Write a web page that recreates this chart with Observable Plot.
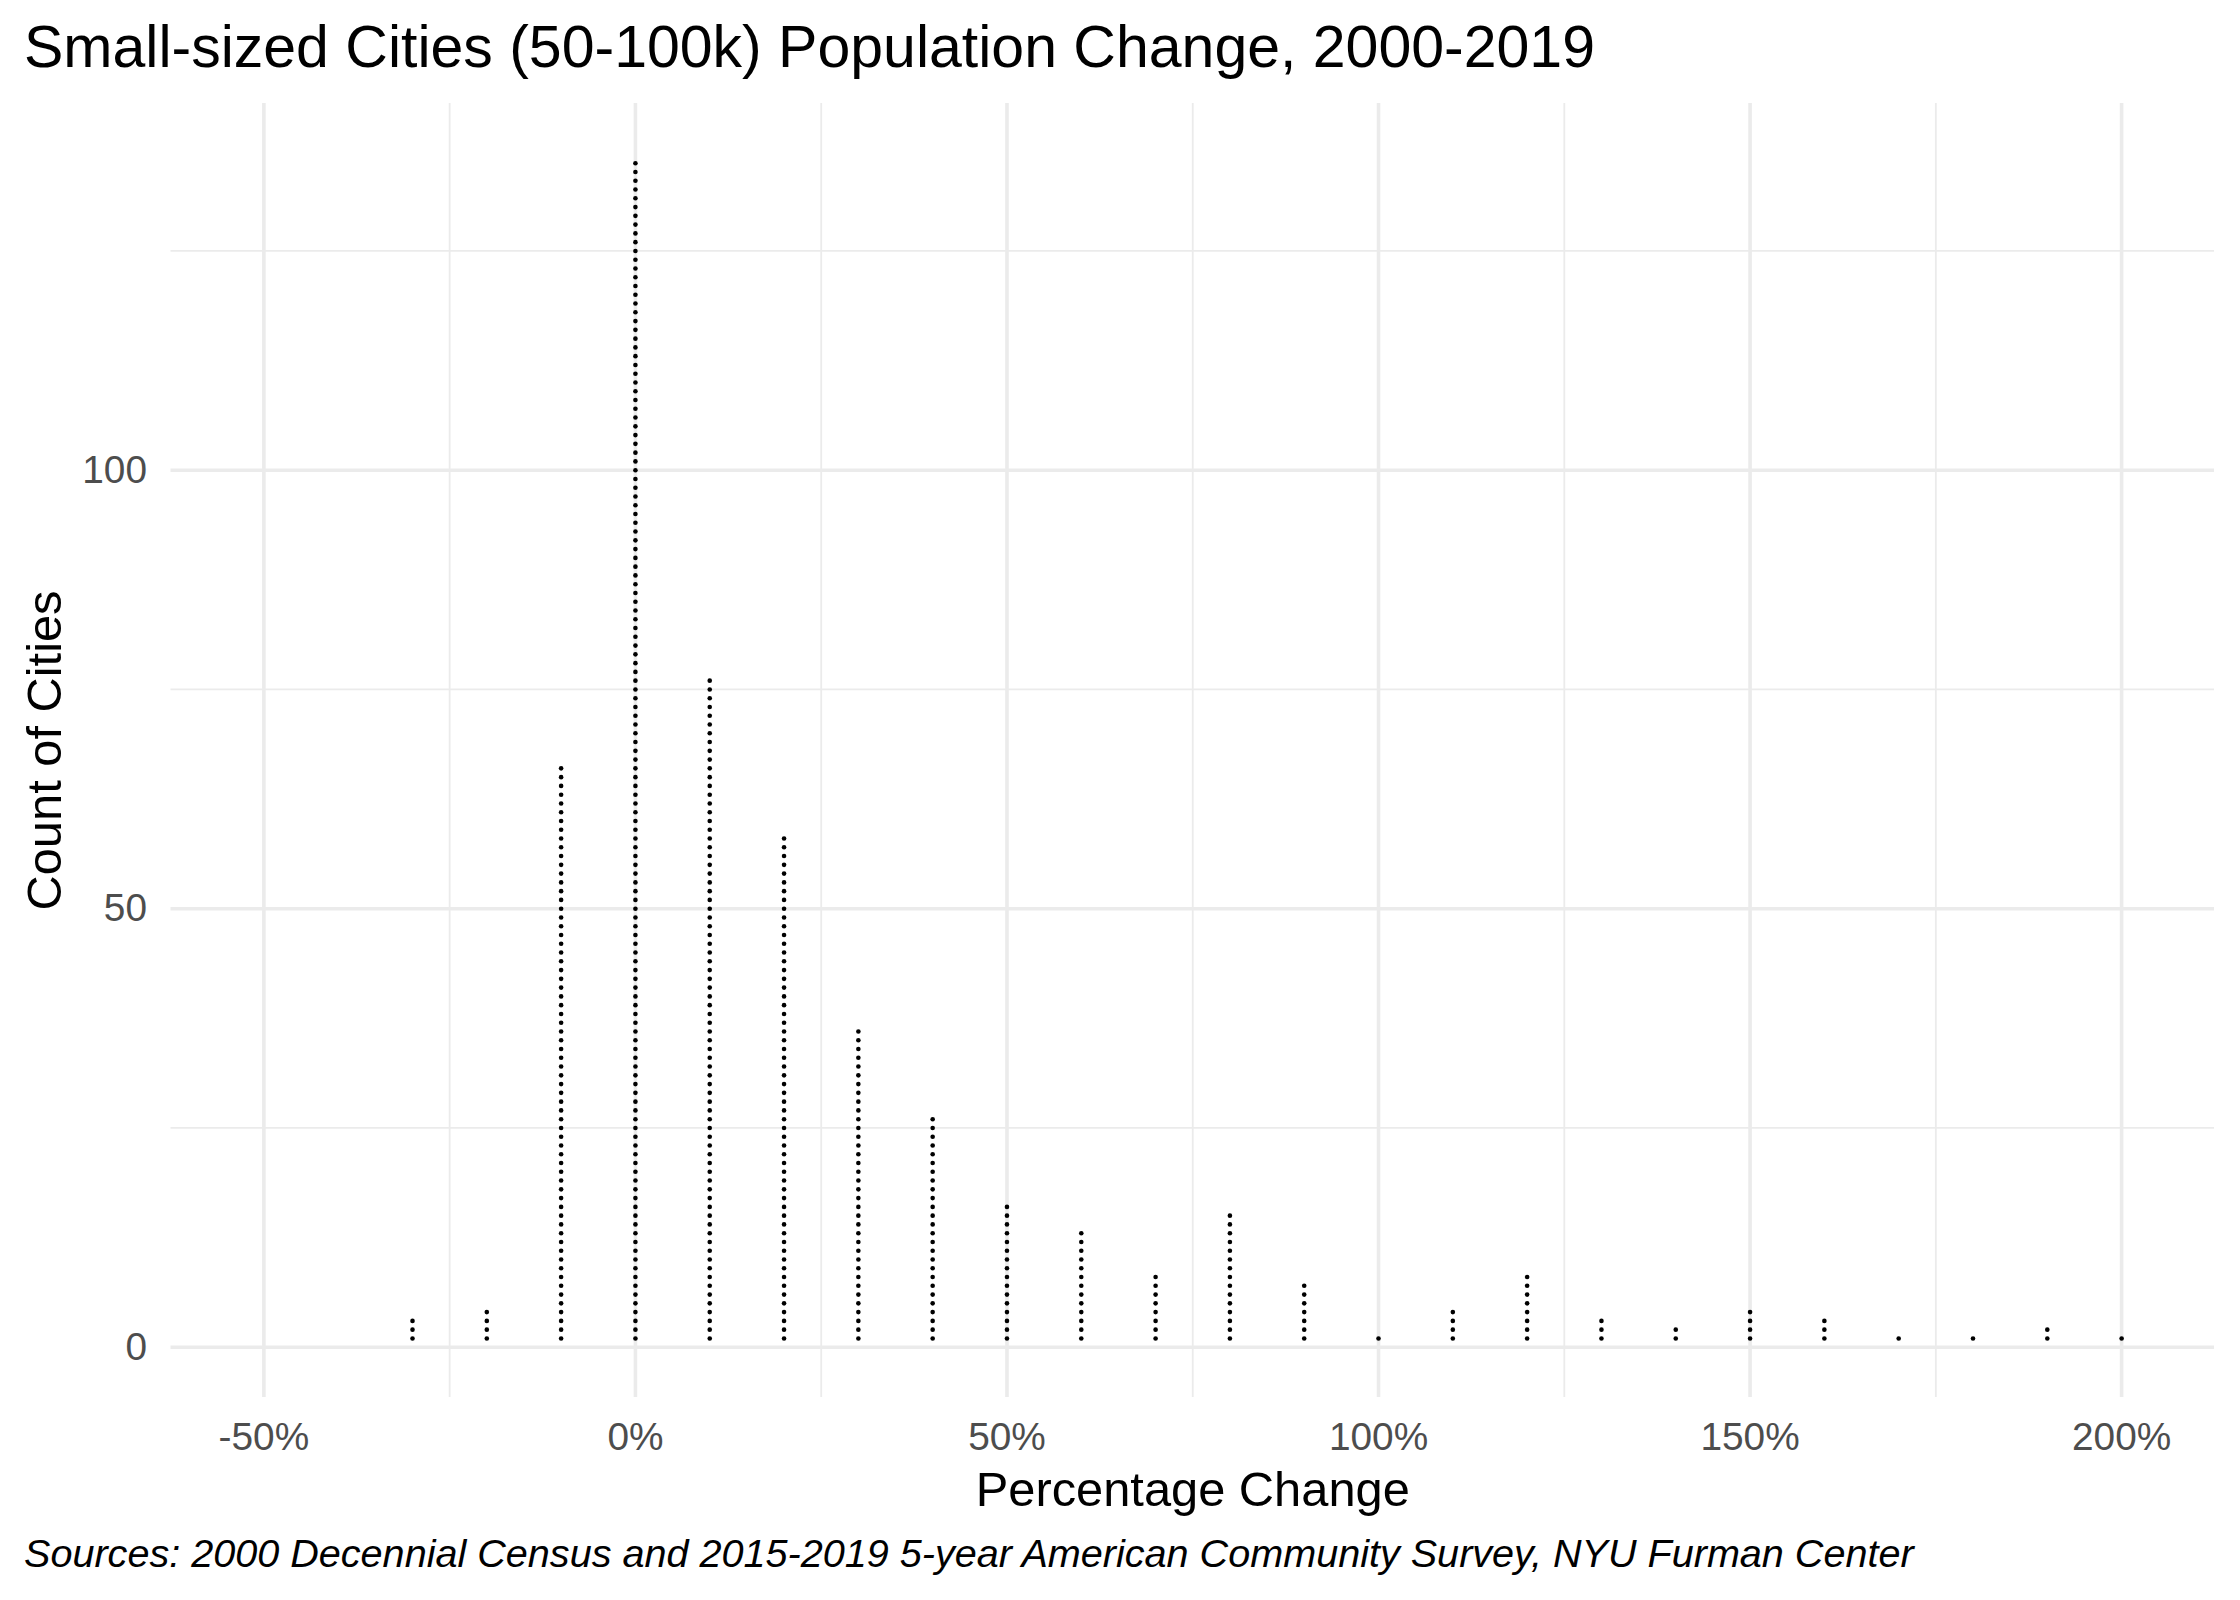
<!DOCTYPE html>
<html>
<head>
<meta charset="utf-8">
<script src="https://cdn.jsdelivr.net/npm/d3@7"></script>
<script src="https://cdn.jsdelivr.net/npm/@observablehq/plot@0.6"></script>
<style>
  html, body { margin: 0; padding: 0; background: #ffffff; }
  #wrap { width: 2240px; height: 1600px; position: relative; overflow: hidden; }
  #title { height: 90px; box-sizing: border-box; padding: 18px 0 0 24px; font-family: 'Liberation Sans', Arial, sans-serif; font-size: 59px; line-height: 59px; color: #000; white-space: nowrap; }
  #caption { box-sizing: border-box; padding: 8.5px 0 0 24px; font-family: 'Liberation Sans', Arial, sans-serif; font-style: italic; font-size: 39.6px; line-height: 39.6px; color: #000; white-space: nowrap; }
  svg { display: block; }
</style>
</head>
<body>
<div id="wrap">
  <div id="title">Small-sized Cities (50-100k) Population Change, 2000-2019</div>
  <div id="chart"></div>
  <div id="caption">Sources: 2000 Decennial Census and 2015-2019 5-year American Community Survey, NYU Furman Center</div>
</div>
<script>
// Bin centres (percentage change) and number of cities stacked in each bin
const pctBins = [-30, -20, -10, 0, 10, 20, 30, 40, 50, 60, 70, 80, 90, 100, 110, 120, 130, 140, 150, 160, 170, 180, 190, 200];
const cityCounts = [3, 4, 66, 135, 76, 58, 36, 26, 16, 13, 8, 15, 7, 1, 4, 8, 3, 2, 4, 3, 1, 1, 2, 1];

// Axis ticks and labels
const xTicks = [-50, 0, 50, 100, 150, 200];
const xTickLabels = ["-50%", "0%", "50%", "100%", "150%", "200%"];
const xMinorGrid = [-25, 25, 75, 125, 175];
const yTicks = [0, 50, 100];
const yTickLabels = ["0", "50", "100"];
const yMinorGrid = [25, 75, 125];

const titleX = "Percentage Change";
const titleY = "Count of Cities";

// One dot per city, stacked within its bin
const dots = [];
pctBins.forEach((p, i) => {
  for (let k = 1; k <= cityCounts[i]; k++) dots.push({pct: p, stack: k});
});

const gridColor = "#EBEBEB";
const font = "'Liberation Sans', Arial, sans-serif";

const chart = Plot.plot({
  width: 2240,
  height: 1435,
  marginLeft: 170.5,
  marginRight: 26,
  marginTop: 13,
  marginBottom: 128,
  style: {fontFamily: font, fontSize: "38.4px", background: "#ffffff", color: "#000"},
  x: {domain: [-62.5, 212.5], axis: null},
  y: {domain: [-5.735, 141.81], axis: null},
  marks: [
    Plot.ruleX(xMinorGrid, {stroke: gridColor, strokeWidth: 1.8}),
    Plot.ruleY(yMinorGrid, {stroke: gridColor, strokeWidth: 1.8}),
    Plot.ruleX(xTicks, {stroke: gridColor, strokeWidth: 3.6}),
    Plot.ruleY(yTicks, {stroke: gridColor, strokeWidth: 3.6}),
    Plot.axisX({ticks: xTicks, tickFormat: d => xTickLabels[xTicks.indexOf(d)], tickSize: 0, tickPadding: 25, fontSize: 38.8, color: "#4D4D4D", label: null}),
    Plot.axisY({ticks: yTicks, tickFormat: d => yTickLabels[yTicks.indexOf(d)], tickSize: 0, tickPadding: 24, fontSize: 38.8, color: "#4D4D4D", label: null}),
    Plot.dot(dots, {x: "pct", y: "stack", r: 2.3, fill: "#000000", stroke: null}),
    Plot.text([titleX], {frameAnchor: "bottom", dy: 108, lineAnchor: "bottom", textAnchor: "middle", fontSize: 48.8, fill: "#000000"}),
    Plot.text([titleY], {frameAnchor: "left", dx: -110.5, rotate: -90, lineAnchor: "bottom", textAnchor: "middle", fontSize: 48.8, fill: "#000000"})
  ]
});
document.getElementById("chart").appendChild(chart);
</script>
</body>
</html>
